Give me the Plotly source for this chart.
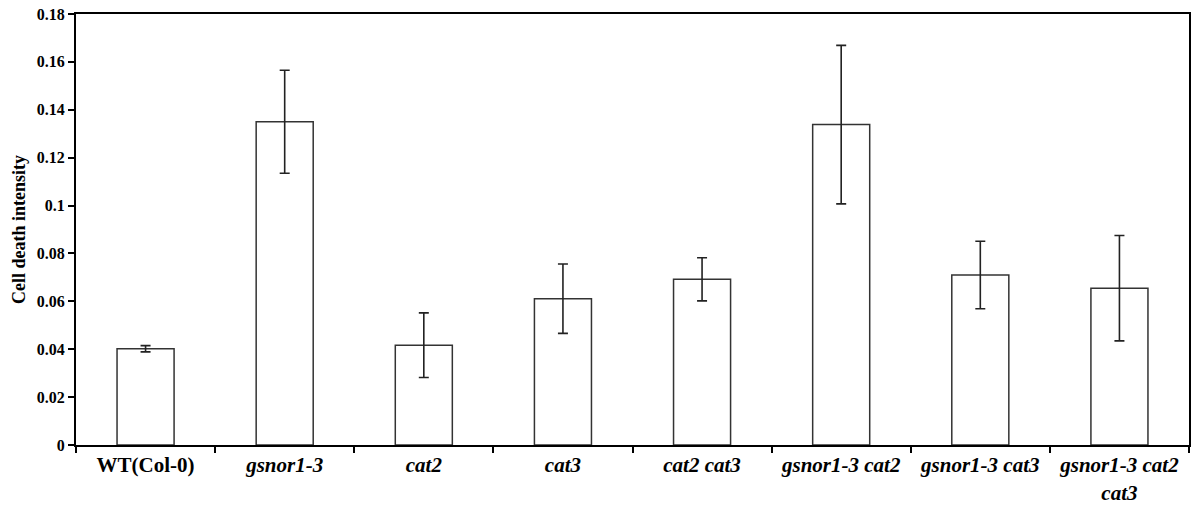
import plotly.graph_objects as go

# Cell death intensity per genotype (mean ± error)
genotypes = ["WT(Col-0)", "gsnor1-3", "cat2", "cat3", "cat2 cat3",
             "gsnor1-3 cat2", "gsnor1-3 cat3", "gsnor1-3 cat2 cat3"]
tick_labels = ["<b>WT(Col-0)</b>", "<b><i>gsnor1-3</i></b>", "<b><i>cat2</i></b>",
               "<b><i>cat3</i></b>", "<b><i>cat2 cat3</i></b>",
               "<b><i>gsnor1-3 cat2</i></b>", "<b><i>gsnor1-3 cat3</i></b>",
               "<b><i>gsnor1-3 cat2</i></b><br><b><i>cat3</i></b>"]
intensity = [0.0402, 0.1350, 0.0417, 0.0611, 0.0692, 0.1338, 0.0710, 0.0655]
errors = [0.0013, 0.0215, 0.0135, 0.0145, 0.0090, 0.0331, 0.0141, 0.0220]
y_ticks = [0, 0.02, 0.04, 0.06, 0.08, 0.1, 0.12, 0.14, 0.16, 0.18]
y_tick_text = ["<b>0</b>", "<b>0.02</b>", "<b>0.04</b>", "<b>0.06</b>", "<b>0.08</b>",
               "<b>0.1</b>", "<b>0.12</b>", "<b>0.14</b>", "<b>0.16</b>", "<b>0.18</b>"]

font_family = "Liberation Serif, Times New Roman, serif"

fig = go.Figure(
    go.Bar(
        x=genotypes,
        y=intensity,
        width=0.41,
        marker=dict(color="white", line=dict(color="#333333", width=1.5)),
        error_y=dict(type="data", array=errors, visible=True,
                     color="#222222", thickness=1.6, width=5),
    )
)

fig.update_layout(
    width=1192,
    height=506,
    margin=dict(l=76, r=1, t=14, b=61),
    plot_bgcolor="white",
    paper_bgcolor="white",
    showlegend=False,
    font=dict(family=font_family, color="black"),
)

fig.update_xaxes(
    type="category",
    tickmode="array",
    tickvals=genotypes,
    ticktext=tick_labels,
    tickson="boundaries",
    ticks="outside",
    ticklen=6,
    tickwidth=1.5,
    tickcolor="black",
    showline=True,
    linecolor="black",
    linewidth=2,
    mirror=True,
    showgrid=False,
    tickfont=dict(family=font_family, size=21, color="black"),
    tickangle=0,
)

fig.update_yaxes(
    range=[0, 0.18],
    tickmode="array",
    tickvals=y_ticks,
    ticktext=y_tick_text,
    ticks="outside",
    ticklen=6,
    tickwidth=1.5,
    tickcolor="black",
    showline=True,
    linecolor="black",
    linewidth=2,
    mirror=True,
    showgrid=False,
    zeroline=False,
    tickfont=dict(family=font_family, size=16, color="black"),
    title=dict(text="<b>Cell death intensity</b>", standoff=6,
               font=dict(family=font_family, size=18, color="black")),
)

fig.write_html("out.html")
